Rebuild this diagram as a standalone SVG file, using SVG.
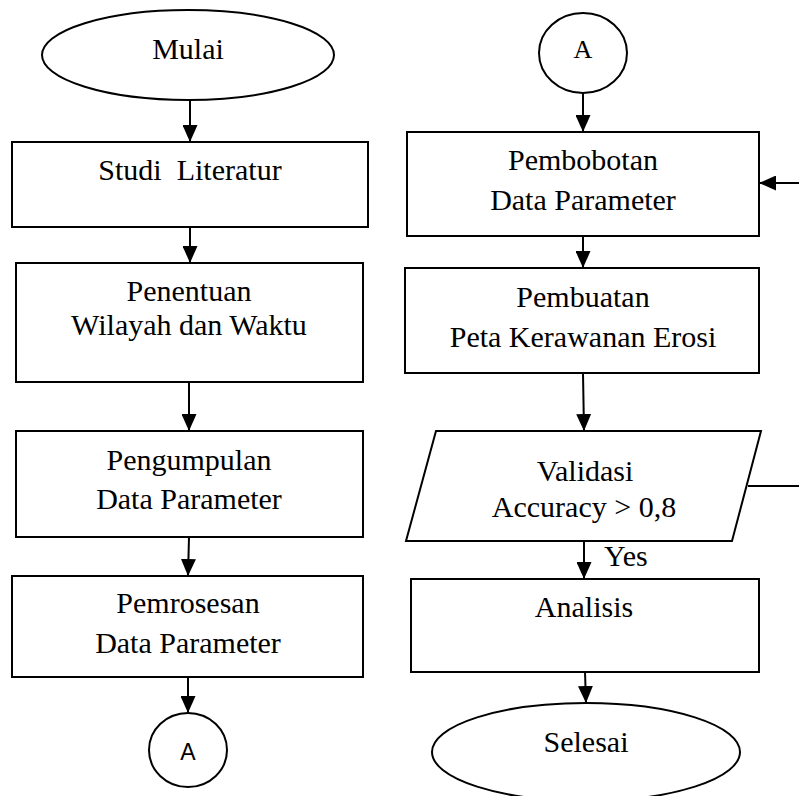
<svg xmlns="http://www.w3.org/2000/svg" width="799" height="796" viewBox="0 0 799 796">
<style>
.s{fill:#fff;stroke:#000;stroke-width:2}
.t{font-family:"Liberation Serif","Times New Roman",serif;font-size:30px;fill:#000;text-anchor:middle}
.c{fill:none;stroke:#000;stroke-width:2}
</style>
<defs>
<marker id="ah" markerUnits="userSpaceOnUse" markerWidth="17" markerHeight="15" refX="17" refY="7.5" orient="auto">
<path d="M0,0 L17,7.5 L0,15 Z" fill="#000"/>
</marker>
</defs>
<rect width="799" height="796" fill="#fff"/>
<g id="connectors">
<line class="c" x1="190" y1="101" x2="190" y2="142" marker-end="url(#ah)"/>
<line class="c" x1="190" y1="227" x2="190" y2="263" marker-end="url(#ah)"/>
<line class="c" x1="189" y1="382" x2="189" y2="431" marker-end="url(#ah)"/>
<line class="c" x1="189" y1="537" x2="188" y2="576" marker-end="url(#ah)"/>
<line class="c" x1="188" y1="677" x2="188" y2="713" marker-end="url(#ah)"/>
<line class="c" x1="583" y1="92" x2="583" y2="132" marker-end="url(#ah)"/>
<line class="c" x1="583" y1="236" x2="583" y2="268" marker-end="url(#ah)"/>
<line class="c" x1="583" y1="373" x2="584" y2="431" marker-end="url(#ah)"/>
<line class="c" x1="584" y1="541" x2="584" y2="579" marker-end="url(#ah)"/>
<line class="c" x1="585" y1="672" x2="586" y2="703" marker-end="url(#ah)"/>
<line class="c" x1="799" y1="183" x2="759" y2="183" marker-end="url(#ah)"/>
<line class="c" x1="748" y1="486" x2="799" y2="486"/>
<text x="604" y="566" style="font-family:'Liberation Serif','Times New Roman',serif;font-size:30px">Yes</text>
</g>
<g id="mulai">
<ellipse class="s" cx="188" cy="55" rx="146" ry="45"/>
<text class="t" x="188" y="59">Mulai</text>
</g>
<g id="studi">
<rect class="s" x="12" y="142" width="356" height="85"/>
<text class="t" x="190" y="180" xml:space="preserve">Studi  Literatur</text>
</g>
<g id="penentuan">
<rect class="s" x="16" y="263" width="347" height="119"/>
<text class="t" x="189" y="301">Penentuan</text>
<text class="t" x="189" y="335">Wilayah dan Waktu</text>
</g>
<g id="pengumpulan">
<rect class="s" x="16" y="431" width="347" height="106"/>
<text class="t" x="189" y="470">Pengumpulan</text>
<text class="t" x="189" y="509">Data Parameter</text>
</g>
<g id="pemrosesan">
<rect class="s" x="12" y="576" width="351" height="101"/>
<text class="t" x="188" y="613">Pemrosesan</text>
<text class="t" x="188" y="653">Data Parameter</text>
</g>
<g id="conn-a-out">
<ellipse class="s" cx="188" cy="750" rx="39" ry="37"/>
<text x="188" y="760" style="font-family:'Liberation Sans',Arial,sans-serif;font-size:23px;text-anchor:middle">A</text>
</g>
<g id="conn-a-in">
<ellipse class="s" cx="583" cy="53" rx="44" ry="40"/>
<text class="t" x="583" y="58" style="font-size:26px">A</text>
</g>
<g id="pembobotan">
<rect class="s" x="407" y="132" width="352" height="104"/>
<text class="t" x="583" y="170">Pembobotan</text>
<text class="t" x="583" y="210">Data Parameter</text>
</g>
<g id="pembuatan">
<rect class="s" x="405" y="268" width="354" height="105"/>
<text class="t" x="583" y="307">Pembuatan</text>
<text class="t" x="583" y="347">Peta Kerawanan Erosi</text>
</g>
<g id="validasi">
<polygon class="s" points="436,431 761,431 732,541 406,541"/>
<text class="t" x="585" y="481">Validasi</text>
<text class="t" x="584" y="517">Accuracy &gt; 0,8</text>
</g>
<g id="analisis">
<rect class="s" x="411" y="579" width="348" height="93"/>
<text class="t" x="584" y="617">Analisis</text>
</g>
<g id="selesai">
<ellipse class="s" cx="586" cy="752" rx="154" ry="49"/>
<text class="t" x="586" y="752">Selesai</text>
</g>
</svg>
